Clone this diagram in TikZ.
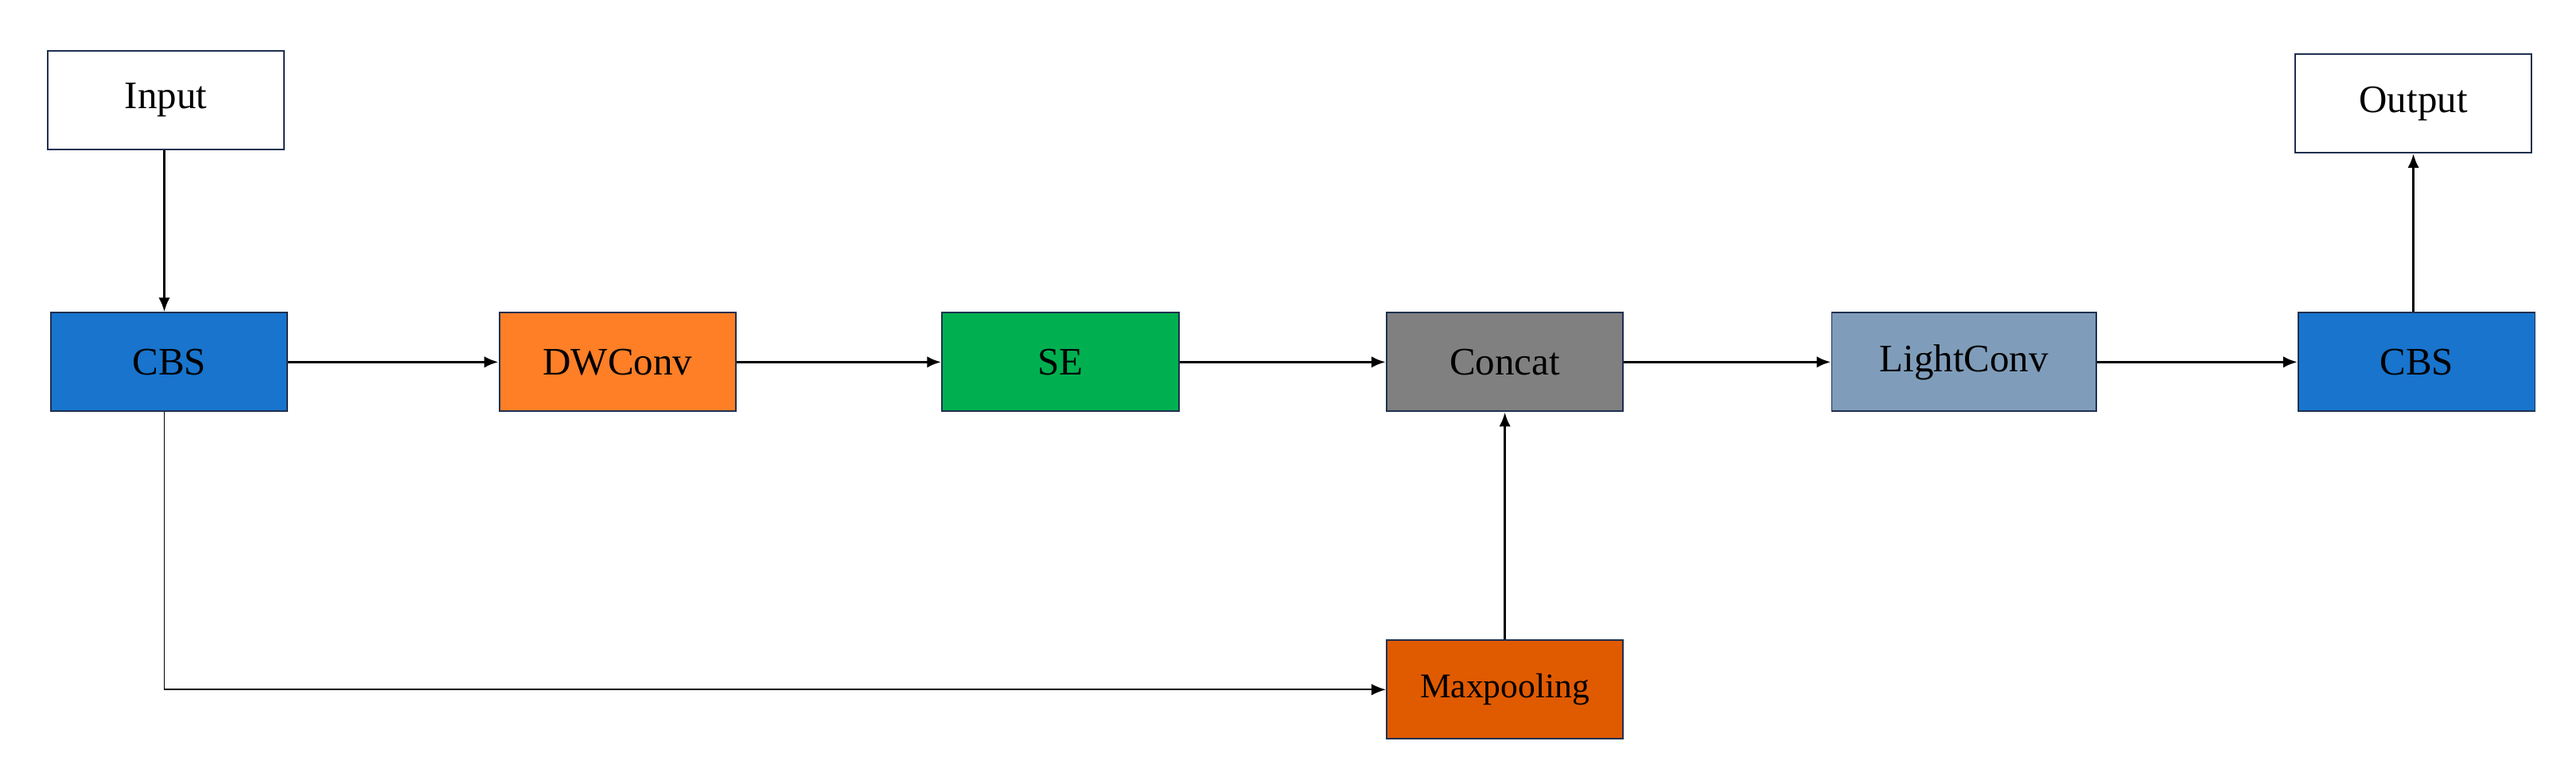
\documentclass[tikz,border=0pt]{standalone}
\usepackage{fontspec}
\setmainfont{Liberation Serif}
\usetikzlibrary{arrows.meta}
\definecolor{cbs}{HTML}{1874CD}
\definecolor{dw}{HTML}{FF7F27}
\definecolor{se}{HTML}{00B050}
\definecolor{cc}{HTML}{808080}
\definecolor{lc}{HTML}{7F9DBA}
\definecolor{mp}{HTML}{E05A00}
\definecolor{bd}{HTML}{1F3050}
\begin{document}
\begin{tikzpicture}[x=0.02cm,y=-0.02cm,
  box/.style={draw=bd,line width=0.5pt,minimum width=144*0.02cm,minimum height=60*0.02cm,inner sep=0pt,font=\fontsize{13.5}{16}\selectfont},
  arr/.style={-{Latex[length=5pt,width=4pt]},line width=1pt}]
\useasboundingbox (0,0) rectangle (1568,475);
\node[box] (in) at (101,61) {Input};
\node[box,fill=cbs] (c1) at (103,220.5) {CBS};
\node[box,fill=dw] (dw) at (376,220.5) {DWConv};
\node[box,fill=se] (se) at (645.5,220.5) {SE};
\node[box,fill=cc] (cc) at (916,220.5) {Concat};
\node[box,fill=lc,minimum width=161*0.02cm] (lc) at (1195.5,220.5) {LightConv};
\node[box,fill=cbs] (c2) at (1471,220.5) {CBS};
\node[box] (out) at (1469,63) {Output};
\node[box,fill=mp,font=\fontsize{12}{14}\selectfont] (mp) at (916,420) {Maxpooling};
\draw[arr] (in.south -| 100,0) -- (c1.north -| 100,0);
\draw[arr] (c1) -- (dw);
\draw[arr] (dw) -- (se);
\draw[arr] (se) -- (cc);
\draw[arr] (cc) -- (lc);
\draw[arr] (lc) -- (c2);
\draw[arr] (mp) -- (cc);
\draw[arr] (c2.north -| out) -- (out);
\draw[-{Latex[length=5pt,width=4pt]},line width=0.5pt] (c1.south -| 100,0) |- (mp.west);
\end{tikzpicture}
\end{document}
